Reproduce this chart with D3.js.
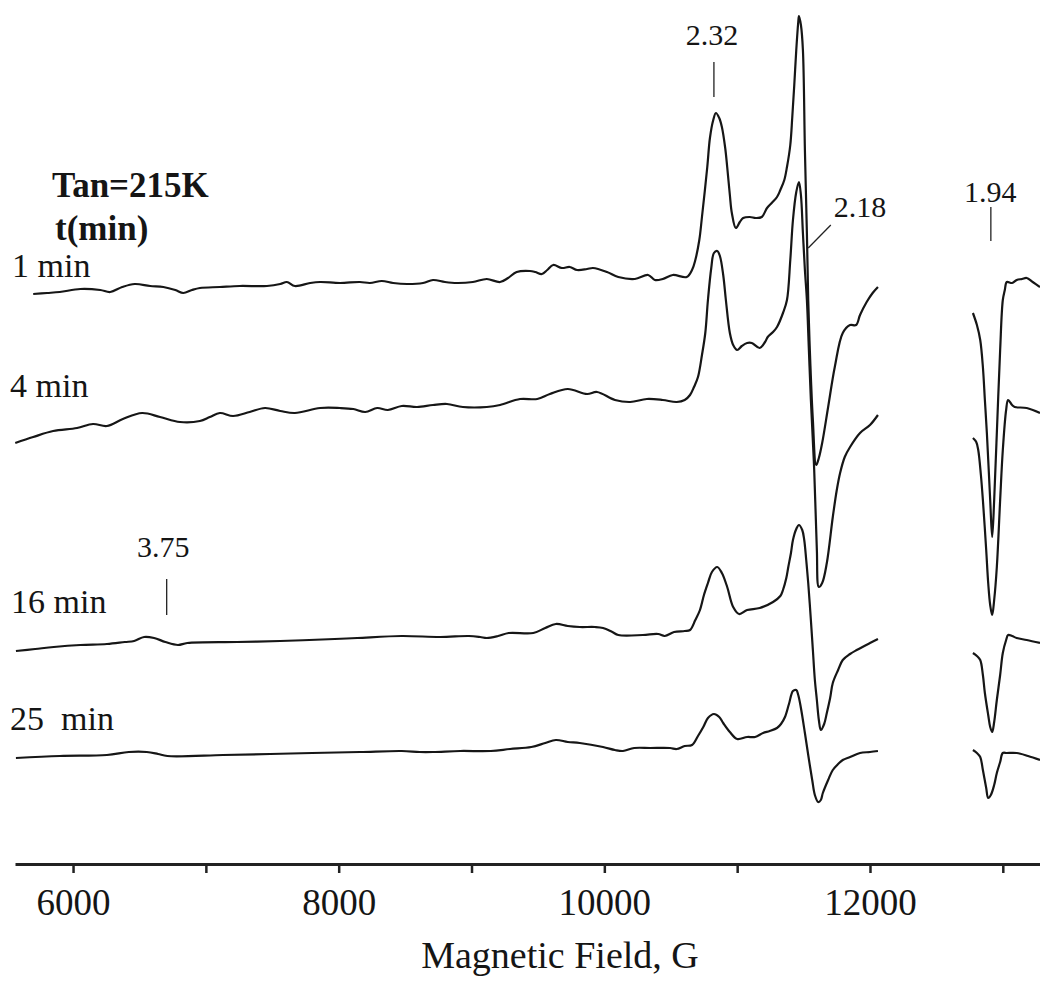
<!DOCTYPE html>
<html>
<head>
<meta charset="utf-8">
<script src="https://cdn.jsdelivr.net/npm/d3@7"></script>
<style>
  body { margin: 0; background: #fff; }
  svg { display: block; }
  text { font-family: "Liberation Serif", "Times New Roman", serif; fill: #151515; }
</style>
</head>
<body>
<svg id="chart" width="1040" height="984"></svg>
<script>
// EPR spectra, field in gauss, signal in arbitrary units relative to each trace's baseline
// a null signal marks the gap in the recorded field range
var trace1 = [[5700,-11],[5805,-10],[5900,-9],[6055,-6],[6205,-7],[6280,-9],[6370,-4],[6465,-1],[6580,-3],[6680,-4],
  [6770,-7],[6830,-10],[6895,-7],[6955,-5],[7105,-4],[7255,-3],[7460,-3],[7560,-1],[7610,1],[7670,-3],[7785,0],[7860,1],
  [8010,0],[8160,1],[8235,0],[8325,2],[8410,0],[8515,-1],[8635,0],[8710,3],[8800,1],[8890,0],[9010,1],[9115,4],[9215,1],
  [9275,5],[9340,11],[9440,12],[9480,11],[9530,9],[9570,13],[9615,18],[9680,15],[9740,16],[9795,13],[9870,14],[9915,15],
  [10020,11],[10105,6],[10230,4],[10330,8],[10380,3],[10440,4],[10515,8],[10620,6],[10660,13],[10685,23],[10715,43],
  [10735,66],[10775,116],[10795,145],[10820,163],[10840,170],[10865,165],[10885,156],[10910,135],[10925,116],[10945,88],
  [10960,70],[10990,55],[11020,61],[11045,65],[11095,66],[11140,65],[11185,66],[11225,75],[11260,80],[11300,86],[11325,93],
  [11355,103],[11375,116],[11400,138],[11415,166],[11430,198],[11445,233],[11460,261],[11465,267],[11480,258],[11495,233],
  [11510,133],[11525,50],[11535,-17],[11550,-77],[11570,-137],[11595,-182],[11615,-175],[11640,-160],[11685,-124],
  [11735,-84],[11795,-50],[11850,-42],[11895,-42],[11925,-32],[11975,-19],[12020,-10],[12060,-4],
  [12400,null],
  [12775,-30],[12805,-42],[12830,-57],[12850,-84],[12865,-117],[12880,-150],[12905,-217],[12920,-254],[12935,-217],
  [12955,-150],[12980,-67],[13000,-17],[13015,-7],[13030,1],[13070,0],[13105,3],[13145,4],[13180,5],[13225,1],[13280,-4]];

var trace4 = [[5565,-35],[5700,-29],[5850,-23],[6030,-20],[6150,-16],[6255,-18],[6375,-11],[6520,-5],[6655,-9],[6805,-14],
  [6955,-13],[7030,-9],[7105,-5],[7205,-8],[7330,-4],[7445,0],[7560,-3],[7670,-5],[7860,0],[8010,0],[8110,-1],[8200,-4],
  [8290,0],[8370,-2],[8475,2],[8590,1],[8710,3],[8815,4],[8935,1],[9115,1],[9215,3],[9365,9],[9495,9],[9590,14],[9725,19],
  [9870,14],[9945,16],[10080,8],[10195,6],[10320,9],[10440,8],[10545,6],[10605,8],[10645,13],[10675,21],[10705,31],
  [10735,53],[10760,75],[10780,108],[10805,140],[10825,155],[10850,157],[10870,152],[10895,133],[10915,108],[10945,75],
  [10970,63],[11000,58],[11035,62],[11075,65],[11110,65],[11170,60],[11210,66],[11230,71],[11270,76],[11300,81],[11345,95],
  [11375,108],[11400,148],[11420,188],[11445,216],[11465,226],[11480,213],[11495,175],[11510,138],[11525,108],[11540,58],
  [11555,8],[11580,-62],[11600,-142],[11615,-179],[11640,-175],[11675,-155],[11720,-109],[11750,-82],[11775,-65],
  [11810,-49],[11850,-39],[11925,-25],[12000,-17],[12060,-7],
  [12400,null],
  [12775,-30],[12800,-34],[12815,-42],[12835,-67],[12850,-92],[12875,-142],[12890,-175],[12905,-197],[12920,-207],
  [12935,-192],[12955,-159],[12980,-92],[13000,-42],[13025,-2],[13040,8],[13070,3],[13090,1],[13180,0],[13280,-5]];

var trace16 = [[5570,-13],[5715,-11],[5855,-9],[6055,-7],[6255,-6],[6390,-4],[6460,-3],[6535,1],[6610,0],[6695,-4],
  [6790,-7],[6860,-5],[7235,-4],[7560,-3],[7970,-1],[8140,0],[8475,2],[8765,1],[8980,2],[9065,1],[9115,0],[9200,2],
  [9280,5],[9465,5],[9555,10],[9635,14],[9725,12],[9815,11],[9930,11],[9990,10],[10060,6],[10105,3],[10290,3],[10405,4],
  [10455,2],[10525,6],[10605,7],[10645,8],[10685,18],[10720,28],[10750,43],[10780,55],[10810,66],[10850,71],[10885,65],
  [10925,51],[10970,31],[11015,24],[11075,28],[11170,30],[11270,36],[11325,42],[11345,48],[11370,60],[11385,71],[11405,85],
  [11420,98],[11445,109],[11465,113],[11490,108],[11505,98],[11520,78],[11535,55],[11555,18],[11570,-12],[11585,-42],
  [11600,-62],[11615,-82],[11630,-92],[11655,-86],[11675,-75],[11700,-60],[11720,-45],[11760,-32],[11795,-22],[11850,-16],
  [11900,-12],[12000,-5],[12060,-1],
  [12400,null],
  [12775,-15],[12805,-18],[12830,-22],[12850,-37],[12865,-55],[12890,-77],[12905,-89],[12920,-94],[12935,-84],[12955,-62],
  [12980,-37],[13000,-15],[13025,-2],[13040,3],[13070,2],[13105,0],[13180,-2],[13280,-5]];

var trace25 = [[5570,-6],[5900,-4],[6255,-3],[6420,0],[6555,0],[6640,-2],[6710,-4],[7130,-3],[7485,-2],[7800,-1],[8160,0],
  [8475,1],[8610,0],[8710,0],[8915,1],[9145,1],[9290,3],[9450,5],[9555,9],[9635,12],[9725,10],[9815,9],[9990,5],[10080,2],
  [10140,1],[10225,4],[10345,4],[10495,4],[10545,3],[10605,6],[10660,7],[10705,16],[10745,25],[10780,34],[10825,38],
  [10865,35],[10895,29],[10945,20],[11000,13],[11075,15],[11135,15],[11195,19],[11245,21],[11300,24],[11330,28],[11360,35],
  [11390,48],[11420,61],[11445,62],[11460,57],[11480,44],[11510,19],[11535,-3],[11565,-28],[11585,-43],[11610,-50],
  [11630,-48],[11645,-41],[11685,-28],[11720,-18],[11760,-12],[11795,-8],[11850,-5],[11925,-1],[12000,0],[12060,1],
  [12400,null],
  [12775,2],[12805,-1],[12830,-5],[12850,-18],[12875,-36],[12890,-46],[12910,-43],[12935,-33],[12955,-21],[12980,-10],
  [13000,-1],[13030,-1],[13105,-1],[13190,-4],[13280,-8]];

var traces = [trace1, trace4, trace16, trace25];
var traceOffsets = [581, 456, 226, 112];          // vertical stacking, a.u.
var traceLabels = ["1 min", "4 min", "16 min", "25  min"];
var labelPos = [[12, 277], [10, 397], [11, 613], [10, 730]];

var tickValues = [6000, 7000, 8000, 9000, 10000, 11000, 12000, 13000];
var tickLabels = [6000, 8000, 10000, 12000];

// g-factor markers: [label, field of label, label height, mark field from, mark field to, mark from, mark to]
var gMarks = [
  ["2.32", 10810, 819, 10825, 10825, 802, 767],
  ["1.94", 12905, 662, 12910, 12910, 657, 623],
  ["3.75", 6680, 307, 6705, 6705, 285, 249],
  ["2.18", 11925, 647, 11535, 11705, 616, 639]
];

var svg = d3.select("#chart"),
    width = +svg.attr("width"),
    height = +svg.attr("height");

var axisY = 864;

var x = d3.scaleLinear().domain([5563, 13280]).range([15, 1040]);
var y = d3.scaleLinear().domain([0, 864]).range([864, 0]);

// x axis
var xAxis = svg.append("g")
    .attr("transform", "translate(0," + axisY + ")")
    .call(d3.axisBottom(x)
      .tickValues(tickValues)
      .tickSize(9)
      .tickSizeOuter(0)
      .tickFormat(function(d) { return tickLabels.indexOf(d) >= 0 ? d : ""; }));

xAxis.select(".domain").attr("stroke", "#222").attr("stroke-width", 3);
xAxis.selectAll(".tick line").attr("stroke", "#222").attr("stroke-width", 2.5);
xAxis.selectAll(".tick text")
    .attr("y", 25)
    .style("font-family", "Liberation Serif, serif")
    .style("font-size", "37px")
    .attr("fill", "#151515");

svg.append("text")
    .attr("x", 560)
    .attr("y", 968)
    .attr("text-anchor", "middle")
    .style("font-size", "38px")
    .text("Magnetic Field, G");

// spectra
var line = d3.line()
    .defined(function(d) { return d[1] !== null; })
    .curve(d3.curveCatmullRom.alpha(0.5));

traces.forEach(function(tr, i) {
  line.x(function(d) { return x(d[0]); })
      .y(function(d) { return y(d[1] + traceOffsets[i]); });
  svg.append("path")
      .datum(tr)
      .attr("fill", "none")
      .attr("stroke", "#161616")
      .attr("stroke-width", 2.2)
      .attr("stroke-linejoin", "round")
      .attr("d", line);

  svg.append("text")
      .attr("x", labelPos[i][0])
      .attr("y", labelPos[i][1])
      .attr("xml:space", "preserve")
      .style("white-space", "pre")
      .style("font-size", "34px")
      .text(traceLabels[i]);
});

// title block
svg.append("text")
    .attr("x", 52).attr("y", 197)
    .style("font-size", "35px").style("font-weight", "bold")
    .text("Tan=215K");
svg.append("text")
    .attr("x", 55).attr("y", 240)
    .style("font-size", "35px").style("font-weight", "bold")
    .text("t(min)");

// g-factor marks
gMarks.forEach(function(m) {
  svg.append("text")
      .attr("x", x(m[1]))
      .attr("y", y(m[2]))
      .attr("text-anchor", "middle")
      .style("font-size", "30px")
      .text(m[0]);
  svg.append("line")
      .attr("x1", x(m[3])).attr("y1", y(m[5]))
      .attr("x2", x(m[4])).attr("y2", y(m[6]))
      .attr("stroke", "#222")
      .attr("stroke-width", 1.3);
});
</script>
</body>
</html>
